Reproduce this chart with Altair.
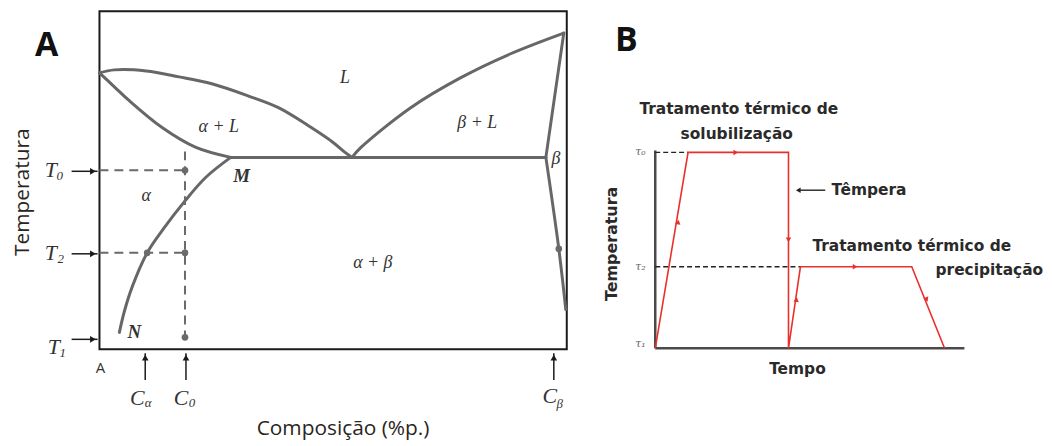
import altair as alt
import pandas as pd

# ================= Panel A : phase diagram (composition %, temperature % of box) =================
liq_left_c = [0, 3.19, 10.0, 17.02, 24.04, 31.91, 38.30, 45.32, 50.0, 52.55, 54.04]
liq_left_t = [81.76, 82.65, 82.35, 80.59, 78.53, 74.91, 71.47, 65.59, 61.18, 58.24, 56.76]
sol_left_c = [0, 3.19, 6.38, 13.40, 20.64, 28.09]
sol_left_t = [81.76, 77.65, 73.53, 65.59, 59.71, 56.76]
eut_c = [28.09, 95.53]
eut_t = [56.76, 56.76]
liq_right_c = [54.04, 55.96, 66.60, 77.23, 87.87, 99.36]
liq_right_t = [56.76, 59.71, 71.47, 80.29, 87.35, 93.53]
sol_right_c = [99.36, 95.53]
sol_right_t = [93.53, 56.76]
solv_beta_c = [95.53, 98.3, 99.79]
solv_beta_t = [56.76, 29.71, 11.76]
solv_alpha_c = [28.09, 22.77, 18.09, 13.83, 10.21, 7.02, 5.32, 4.26]
solv_alpha_t = [56.76, 50.88, 43.53, 35.88, 28.53, 18.53, 11.18, 5.0]

dash_c1 = [0, 0, 18.3]
dash_c2 = [18.3, 18.3, 18.3]
dash_t1 = [52.94, 28.53, 58.53]
dash_t2 = [52.94, 28.53, 2.94]

dot_c = [18.3, 18.3, 10.21, 18.3, 98.3]
dot_t = [52.94, 28.53, 28.53, 3.53, 29.71]

# horizontal arrows T0, T2, T1
harrow_t = [52.65, 28.24, 2.94]
harrow_c1 = -5.96
harrow_c2 = -0.4
# vertical arrows C_alpha, C_0, C_beta
varrow_c = [9.79, 18.51, 97.23]
varrow_t1 = -9.12
varrow_t2 = -1.2

regions_lbl = ["L", "α + L", "β + L", "β", "α", "α + β"]
regions_c = [52.55, 25.53, 80.85, 97.66, 10.0, 58.51]
regions_t = [80.29, 65.88, 67.06, 56.18, 45.29, 25.59]
pts_lbl = ["M", "N"]
pts_c = [30.43, 7.45]
pts_t = [51.18, 5.0]

main_lbl = ["T", "T", "T", "C", "C", "C"]
main_c = [-10.43, -10.43, -9.79, 8.09, 17.45, 96.38]
main_t = [52.94, 28.53, 0.59, -14.41, -14.41, -13.82]
sub_lbl = ["0", "2", "1", "α", "0", "β"]
sub_c = [-8.51, -8.30, -7.87, 10.43, 19.79, 98.51]
sub_t = [51.18, 26.76, -1.18, -15.88, -15.88, -16.18]

A_XDOM = [-19.574, 107.234]
A_YDOM = [-25.882, 100.588]

# ================= Panel B : heat treatment (time, temperature) =================
path_time = [0, 10.65, 43.23, 43.23, 47.10, 83.23, 93.87]
path_temp = [0, 100, 100, 0, 41.62, 41.62, 0]
arrow_time = [7.42, 26.13, 43.23, 45.81, 64.84, 88.06]
arrow_temp = [64.47, 100, 55.33, 24.87, 41.62, 24.87]
arrow_angle = [9.5, 90, 180, 8.3, 90, 158]
tau_levels = [100, 41.62]
tau_dash_end = [10.65, 47.10]
tau_lbl = ["τ₀", "τ₂", "τ₁"]
tau_val = [100, 41.62, 2.03]
b_texts = ["Tratamento térmico de", "solubilização", "Têmpera",
           "Tratamento  térmico de", "precipitação", "Tempo"]
b_text_time = [27.10, 26.45, 69.35, 83.23, 108.4, 46.13]
b_text_temp = [122.34, 109.64, 80.71, 52.28, 40.10, -10.66]

B_XDOM = [-17.742, 124.194]
B_YDOM = [-45.178, 173.096]

W_A, W_B, H = 596, 440, 430


def xy(xdom, ydom, xf="x", yf="y"):
    return dict(
        x=alt.X(xf, type="quantitative", scale=alt.Scale(domain=xdom, nice=False, zero=False), axis=None),
        y=alt.Y(yf, type="quantitative", scale=alt.Scale(domain=ydom, nice=False, zero=False), axis=None),
    )


def text_layer(df, xdom, ydom, font, size, color="#222", style="normal", weight="normal", angle=0):
    kw = dict(font=font, fontSize=size, color=color, fontStyle=style, fontWeight=weight,
              align="center", baseline="middle")
    if angle:
        kw["angle"] = angle
    return alt.Chart(df).mark_text(**kw).encode(text="label:N", **xy(xdom, ydom))


# ---- Panel A build ----
curves = []
for name, cs, ts in [("liq_l", liq_left_c, liq_left_t), ("sol_l", sol_left_c, sol_left_t),
                     ("eut", eut_c, eut_t), ("liq_r", liq_right_c, liq_right_t),
                     ("sol_r", sol_right_c, sol_right_t), ("solv_b", solv_beta_c, solv_beta_t),
                     ("solv_a", solv_alpha_c, solv_alpha_t)]:
    for i, (c, t) in enumerate(zip(cs, ts)):
        curves.append({"curve": name, "i": i, "x": c, "y": t})
curves_df = pd.DataFrame(curves)

box = alt.Chart(pd.DataFrame({"x": [0], "x2": [100], "y": [0], "y2": [100]})).mark_rect(
    fillOpacity=0, stroke="#1a1a1a", strokeWidth=2
).encode(x2="x2", y2="y2", **xy(A_XDOM, A_YDOM))

curve_layer = alt.Chart(curves_df).mark_line(
    color="#676767", strokeWidth=3, strokeJoin="round", strokeCap="round", interpolate="catmull-rom"
).encode(detail="curve:N", order="i:Q", **xy(A_XDOM, A_YDOM))

dash_df = pd.DataFrame({"x": dash_c1, "x2": dash_c2, "y": dash_t1, "y2": dash_t2})
dash_layer = alt.Chart(dash_df).mark_rule(color="#6a6a6a", strokeWidth=2, strokeDash=[9, 6]).encode(
    x2="x2", y2="y2", **xy(A_XDOM, A_YDOM))

dot_layer = alt.Chart(pd.DataFrame({"x": dot_c, "y": dot_t})).mark_point(
    filled=True, color="#6a6a6a", size=45, opacity=1).encode(**xy(A_XDOM, A_YDOM))

harrow_df = pd.DataFrame({"x": [harrow_c1] * 3, "x2": [harrow_c2] * 3, "y": harrow_t, "y2": harrow_t})
harrow_shaft = alt.Chart(harrow_df).mark_rule(color="#1a1a1a", strokeWidth=1.5).encode(
    x2="x2", y2="y2", **xy(A_XDOM, A_YDOM))
harrow_head = alt.Chart(pd.DataFrame({"x": [harrow_c2 - 1.0] * 3, "y": harrow_t})).mark_point(
    shape="triangle-right", filled=True, color="#1a1a1a", size=45, opacity=1).encode(**xy(A_XDOM, A_YDOM))

varrow_df = pd.DataFrame({"x": varrow_c, "x2": varrow_c, "y": [varrow_t1] * 3, "y2": [varrow_t2] * 3})
varrow_shaft = alt.Chart(varrow_df).mark_rule(color="#1a1a1a", strokeWidth=1.5).encode(
    x2="x2", y2="y2", **xy(A_XDOM, A_YDOM))
varrow_head = alt.Chart(pd.DataFrame({"x": varrow_c, "y": [varrow_t2 - 1.3] * 3})).mark_point(
    shape="triangle-up", filled=True, color="#1a1a1a", size=45, opacity=1).encode(**xy(A_XDOM, A_YDOM))

a_big = text_layer(pd.DataFrame({"label": ["A"], "x": [-11.28], "y": [89.71]}), A_XDOM, A_YDOM,
                   "Open Sans", 34, color="#111", weight="bold")
a_ytitle = text_layer(pd.DataFrame({"label": ["Temperatura"], "x": [-16.4], "y": [46.47]}), A_XDOM, A_YDOM,
                      "Open Sans", 21, color="#2a2522", angle=270)
a_xtitle = text_layer(pd.DataFrame({"label": ["Composição (%p.)"], "x": [52.13], "y": [-23.53]}), A_XDOM, A_YDOM,
                      "Open Sans", 21, color="#2a2522")
a_small = text_layer(pd.DataFrame({"label": ["A"], "x": [0.21], "y": [-5.59]}), A_XDOM, A_YDOM,
                     "Open Sans", 15, color="#333")
a_main = text_layer(pd.DataFrame({"label": main_lbl, "x": main_c, "y": main_t}), A_XDOM, A_YDOM,
                    "Liberation Serif", 22, color="#333", style="italic")
a_sub = text_layer(pd.DataFrame({"label": sub_lbl, "x": sub_c, "y": sub_t}), A_XDOM, A_YDOM,
                   "Liberation Serif", 13, color="#333", style="italic")
a_regions = text_layer(pd.DataFrame({"label": regions_lbl, "x": regions_c, "y": regions_t}), A_XDOM, A_YDOM,
                       "Liberation Serif", 18, color="#333", style="italic")
a_pts = text_layer(pd.DataFrame({"label": pts_lbl, "x": pts_c, "y": pts_t}), A_XDOM, A_YDOM,
                   "Liberation Serif", 19, color="#333", style="italic", weight="bold")

panel_a = alt.layer(box, curve_layer, dash_layer, dot_layer, harrow_shaft, harrow_head,
                    varrow_shaft, varrow_head, a_big, a_ytitle, a_xtitle, a_small,
                    a_main, a_sub, a_regions, a_pts).properties(width=W_A, height=H)

# ---- Panel B build ----
axes_df = pd.DataFrame({"x": [0, 0], "x2": [0, 100.3], "y": [0, 0], "y2": [101.0, 0]})
b_axes = alt.Chart(axes_df).mark_rule(color="#4a4a4a", strokeWidth=2.5).encode(
    x2="x2", y2="y2", **xy(B_XDOM, B_YDOM))

bdash_df = pd.DataFrame({"x": [0, 0], "x2": tau_dash_end, "y": tau_levels, "y2": tau_levels})
b_dash = alt.Chart(bdash_df).mark_rule(color="#222", strokeWidth=1.3, strokeDash=[5, 3]).encode(
    x2="x2", y2="y2", **xy(B_XDOM, B_YDOM))

path_df = pd.DataFrame({"x": path_time, "y": path_temp, "i": list(range(len(path_time)))})
b_path = alt.Chart(path_df).mark_line(color="#e8302c", strokeWidth=1.6).encode(order="i:Q", **xy(B_XDOM, B_YDOM))

arr_df = pd.DataFrame({"x": arrow_time, "y": arrow_temp, "ang": arrow_angle})
b_arrows = alt.Chart(arr_df).mark_point(shape="triangle-up", filled=True, color="#e8302c", size=30, opacity=1).encode(
    angle=alt.Angle("ang:Q", scale=None), **xy(B_XDOM, B_YDOM))

temp_arrow_shaft = alt.Chart(pd.DataFrame({"x": [55.16], "x2": [46.6], "y": [80.71], "y2": [80.71]})).mark_rule(
    color="#222", strokeWidth=1.4).encode(x2="x2", y2="y2", **xy(B_XDOM, B_YDOM))
temp_arrow_head = alt.Chart(pd.DataFrame({"x": [46.4], "y": [80.71]})).mark_point(
    shape="triangle-left", filled=True, color="#222", size=30, opacity=1).encode(**xy(B_XDOM, B_YDOM))

b_big = text_layer(pd.DataFrame({"label": ["B"], "x": [-9.35], "y": [156.85]}), B_XDOM, B_YDOM,
                   "Open Sans", 34, color="#111", weight="bold")
b_lbls = text_layer(pd.DataFrame({"label": b_texts, "x": b_text_time, "y": b_text_temp}), B_XDOM, B_YDOM,
                    "DejaVu Sans", 15.5, color="#2a2a2a", weight="bold")
b_ytitle = text_layer(pd.DataFrame({"label": ["Temperatura"], "x": [-13.9], "y": [53.30]}), B_XDOM, B_YDOM,
                      "DejaVu Sans", 16, color="#2a2a2a", weight="bold", angle=270)
b_tau = text_layer(pd.DataFrame({"label": tau_lbl, "x": [-4.84] * 3, "y": tau_val}), B_XDOM, B_YDOM,
                   "DejaVu Serif", 11, color="#666", style="italic")

panel_b = alt.layer(b_axes, b_dash, b_path, b_arrows, temp_arrow_shaft, temp_arrow_head,
                    b_big, b_lbls, b_ytitle, b_tau).properties(width=W_B, height=H)

chart = alt.hconcat(panel_a, panel_b, spacing=0, bounds="flush").resolve_scale(
    x="independent", y="independent"
).properties(padding=0, background="white").configure_view(strokeWidth=0)

chart.save("out.html", embed_options={"renderer": "svg", "actions": False})
